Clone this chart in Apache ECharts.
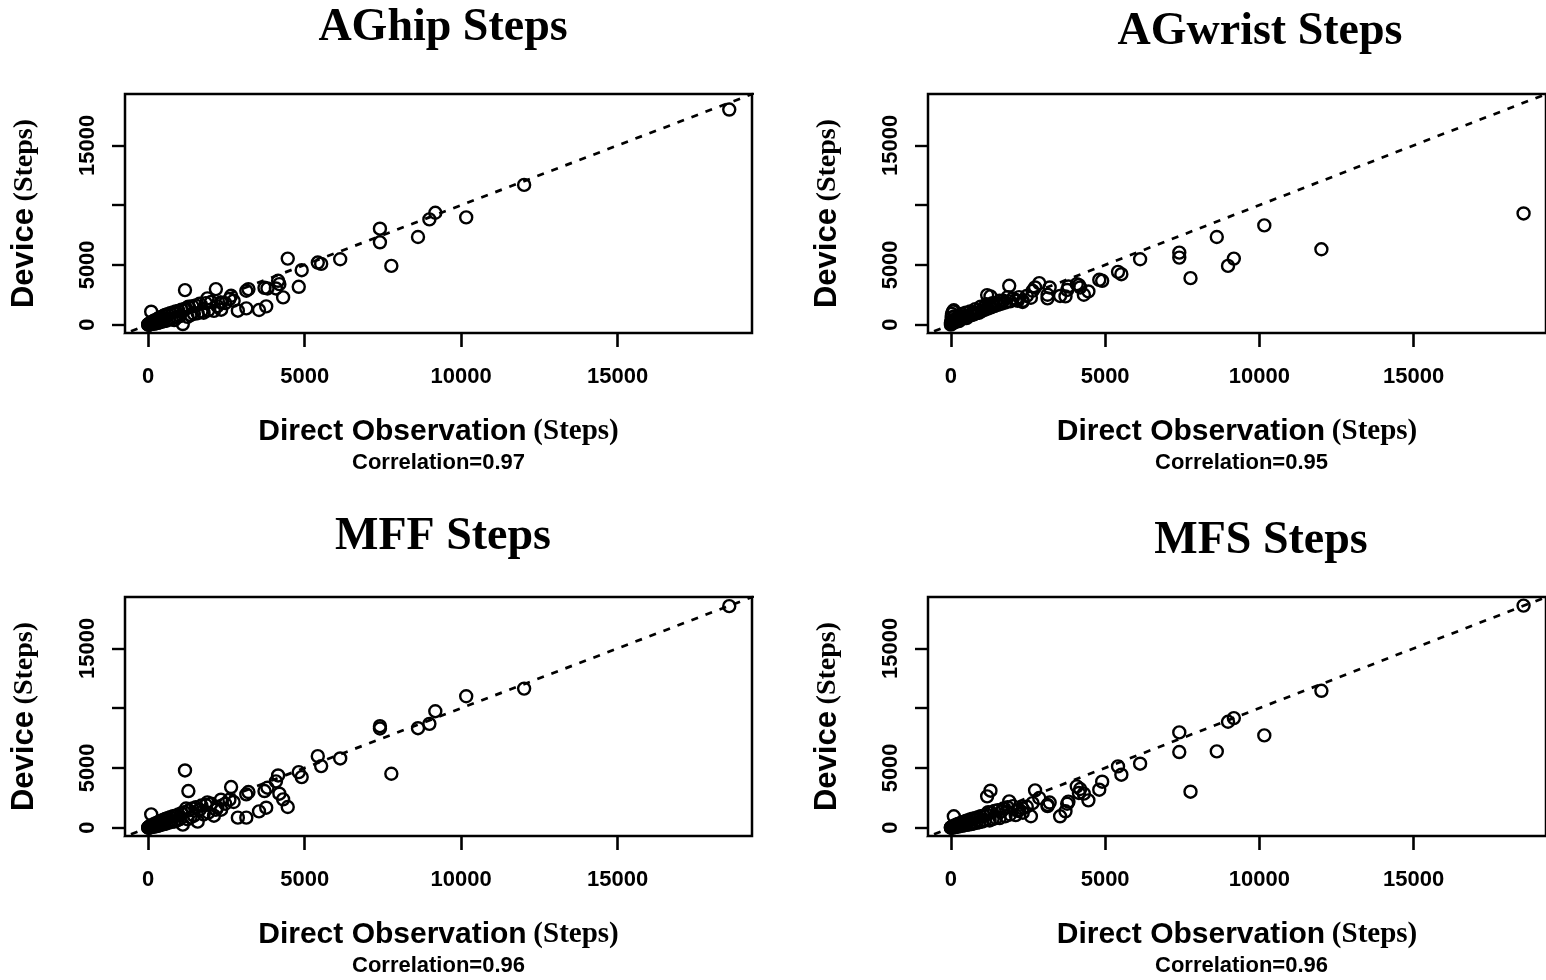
<!DOCTYPE html>
<html>
<head>
<meta charset="utf-8">
<title>Steps</title>
<script src="https://cdn.jsdelivr.net/npm/echarts@6/dist/echarts.min.js"></script>
<style>
  html, body { margin: 0; padding: 0; background: #fff; }
  #main { width: 1546px; height: 980px; }
</style>
</head>
<body>
<div id="main"></div>
<script>
/* 直接观察步数 (四个图共用) */
var observed = [
  18565, 12011, 10160, 9173, 8984, 8620, 7768, 7404, 7404, 6134,
  5526, 5418, 4904, 4810, 4458, 4310, 4190, 4150, 4080, 3810,
  3715, 3770, 3540, 3202, 3134, 3134, 2864, 2729, 2648, 2594,
  2324, 2162, 1891, 1175, 95, 1283,
  12, 35, 48, 70, 95, 120, 140, 175, 205, 230,
  262, 290, 318, 345, 380, 410, 445, 480, 505, 540,
  585, 620, 660, 700, 745, 790, 830, 875, 920, 965,
  1010, 1060, 1105, 1150, 1210, 1255, 1300, 1350, 1410, 1460,
  1520, 1580, 1640, 1700, 1770, 1840, 1920, 2010, 2100, 2210,
  2330, 2460, 0, 0, 25, 60
];

/* 设备步数 */
var aghip = [
  18000, 11694, 8972, 9361, 8806, 7333, 4917, 8028, 6889, 5472,
  5083, 5194, 4556, 3167, 5528, 2278, 3389, 3667, 3028, 3028,
  3083, 1528, 1222, 2972, 2833, 1361, 1167, 2000, 2417, 2139,
  1861, 2972, 2194, 2889, 1083, 1500,
  0, 80, 10, 160, 40, 230, 60, 320, 90, 380,
  120, 450, 150, 560, 200, 640, 250, 720, 300, 820,
  330, 880, 420, 950, 480, 1020, 380, 1100, 600, 1150,
  700, 1250, 50, 1300, 1350, 650, 1450, 800, 1550, 900,
  1600, 950, 1750, 1100, 1000, 1800, 1200, 1900, 1150, 1550,
  1250, 1800, 0, 20, 0, 30
];
var agwrist = [
  9306, 6306, 8306, 5528, 4917, 7333, 3889, 6028, 5611, 5472,
  4222, 4417, 3667, 3750, 2778, 2500, 3111, 3306, 3389, 3194,
  2361, 2900, 2400, 3111, 2194, 2500, 3472, 3111, 2833, 2250,
  1900, 2000, 3250, 2472, 1200, 2361,
  250, 900, 100, 1100, 400, 700, 200, 500, 350, 600,
  300, 750, 450, 900, 500, 650, 600, 1000, 550, 750,
  700, 1100, 800, 1000, 850, 1300, 950, 1200, 1000, 1500,
  1150, 1400, 1250, 1700, 1350, 1600, 1450, 1800, 1550, 1800,
  1650, 2000, 1750, 2000, 1850, 2300, 1950, 2200, 2050, 2300,
  2000, 2400, 0, 150, 600, 300
];
var mff = [
  18535, 11633, 10993, 9741, 8683, 8321, 4508, 8488, 8293, 5789,
  5149, 5983, 4230, 4648, 1725, 2366, 2839, 4369, 3868, 3340,
  3061, 1670, 1364, 2978, 2783, 835, 835, 2143, 3395, 2338,
  2338, 1500, 2115, 4787, 1113, 3061,
  0, 90, 20, 150, 30, 200, 60, 280, 90, 350,
  130, 420, 160, 500, 200, 580, 260, 650, 300, 720,
  350, 800, 420, 880, 480, 950, 500, 1000, 600, 1100,
  700, 1200, 250, 1300, 1600, 700, 1450, 850, 1600, 1000,
  1700, 500, 1500, 1850, 1100, 1900, 1250, 2000, 1000, 1700,
  1500, 2000, 0, 10, 0, 40
];
var mfs = [
  18582, 11450, 7717, 9166, 8859, 6380, 3009, 7968, 6324, 5349,
  4430, 5126, 3845, 3176, 2285, 2842, 3232, 2900, 3455, 2173,
  1365, 2000, 947, 2100, 1800, 1900, 2480, 3120, 2050, 950,
  1600, 1400, 2201, 2619, 947, 3092,
  0, 60, 30, 120, 20, 180, 50, 240, 80, 300,
  110, 360, 140, 420, 170, 480, 200, 550, 230, 600,
  260, 680, 300, 750, 350, 800, 400, 880, 450, 950,
  500, 1000, 600, 1100, 1300, 600, 1250, 700, 1400, 800,
  1450, 800, 1350, 1600, 950, 1700, 1100, 1800, 1050, 1500,
  1250, 1750, 0, 10, 0, 20
];

/* 刻度 */
var xTickValues = [0, 5000, 10000, 15000];
var yTickValues = [0, 5000, 10000, 15000];
var yLabelValues = [0, 5000, 15000];
var identityLine = [-1000, 20000];

var panelNames = ['AGhip Steps', 'AGwrist Steps', 'MFF Steps', 'MFS Steps'];
var correlations = ['0.97', '0.95', '0.96', '0.96'];
var deviceSeries = [aghip, agwrist, mff, mfs];

(function () {
  var myEchart = echarts.init(document.getElementById('main'), null, { renderer: 'canvas' })

  var sans = 'Liberation Sans, Arial, sans-serif'
  var serif = 'Liberation Serif, Times New Roman, serif'

  // 每个图的位置
  var boxes = [
    { left: 125, top: 94 },
    { left: 928, top: 94 },
    { left: 125, top: 597 },
    { left: 928, top: 597 }
  ]
  var boxW = 627, boxH = 239
  var titlePos = [[443, 28], [1260, 32], [443, 537], [1261, 541]]

  var grids = [], xAxes = [], yAxes = [], series = [], graphics = []

  function plain(v) {
    return String(v)
  }

  boxes.forEach(function (b, i) {
    grids.push({
      left: b.left,
      top: b.top,
      width: boxW,
      height: boxH,
      show: true,
      borderColor: '#000',
      borderWidth: 2.5,
      backgroundColor: 'transparent'
    })

    xAxes.push({
      gridIndex: i,
      type: 'value',
      min: -742,
      max: 19292,
      position: 'bottom',
      splitLine: { show: false },
      axisLine: { show: false, onZero: false },
      axisTick: {
        show: true,
        inside: false,
        length: 14,
        customValues: xTickValues,
        lineStyle: { color: '#000', width: 2.6 }
      },
      axisLabel: {
        customValues: xTickValues,
        formatter: plain,
        margin: 33,
        color: '#000',
        fontFamily: sans,
        fontWeight: 'bold',
        fontSize: 22
      },
      name: '{a|Direct Observation}  {b|(Steps)}',
      nameLocation: 'middle',
      nameGap: 83,
      nameTextStyle: {
        rich: {
          a: { fontFamily: sans, fontWeight: 'bold', fontSize: 30, color: '#000', lineHeight: 31 },
          b: { fontFamily: serif, fontWeight: 'bold', fontSize: 29, color: '#000', lineHeight: 31 }
        }
      }
    })

    yAxes.push({
      gridIndex: i,
      type: 'value',
      min: -700,
      max: 19300,
      position: 'left',
      splitLine: { show: false },
      axisLine: { show: false, onZero: false },
      axisTick: {
        show: true,
        inside: false,
        length: 13,
        customValues: yTickValues,
        lineStyle: { color: '#000', width: 2.4 }
      },
      axisLabel: {
        customValues: yLabelValues,
        formatter: plain,
        rotate: 90,
        margin: 26,
        color: '#000',
        fontFamily: sans,
        fontWeight: 'bold',
        fontSize: 22
      },
      name: '{a|Device}  {b|(Steps)}',
      nameLocation: 'middle',
      nameRotate: 90,
      nameGap: 85,
      nameTextStyle: {
        rich: {
          a: { fontFamily: sans, fontWeight: 'bold', fontSize: 31, color: '#000' },
          b: { fontFamily: serif, fontWeight: 'bold', fontSize: 28, color: '#000' }
        }
      }
    })

    /* 散点 */
    series.push({
      type: 'scatter',
      xAxisIndex: i,
      yAxisIndex: i,
      symbol: 'circle',
      symbolSize: 12,
      silent: true,
      itemStyle: {
        color: 'rgba(0,0,0,0)',
        borderColor: '#000',
        borderWidth: 2.4,
        opacity: 1
      },
      data: observed.map(function (x, k) { return [x, deviceSeries[i][k]] })
    })

    /* y = x 虚线 */
    series.push({
      type: 'line',
      xAxisIndex: i,
      yAxisIndex: i,
      symbol: 'none',
      silent: true,
      clip: true,
      lineStyle: { color: '#000', width: 2.7, type: [7, 8] },
      data: identityLine.map(function (v) { return [v, v] })
    })

    /* 标题 */
    graphics.push({
      type: 'text',
      x: titlePos[i][0],
      y: titlePos[i][1],
      style: {
        text: panelNames[i],
        font: 'bold 46px ' + serif,
        fill: '#000',
        textAlign: 'center',
        textVerticalAlign: 'middle'
      }
    })

    /* 相关系数 */
    graphics.push({
      type: 'text',
      x: b.left + boxW / 2,
      y: b.top + boxH + 130,
      style: {
        text: 'Correlation=' + correlations[i],
        font: 'bold 22px ' + sans,
        fill: '#000',
        textAlign: 'center',
        textVerticalAlign: 'middle'
      }
    })
  })

  var option = {
    backgroundColor: '#fff',
    animation: false,
    grid: grids,
    xAxis: xAxes,
    yAxis: yAxes,
    series: series,
    graphic: graphics
  }
  myEchart.setOption(option)
  window.addEventListener('resize', function () {
    myEchart.resize()
  })
})();
</script>
</body>
</html>
